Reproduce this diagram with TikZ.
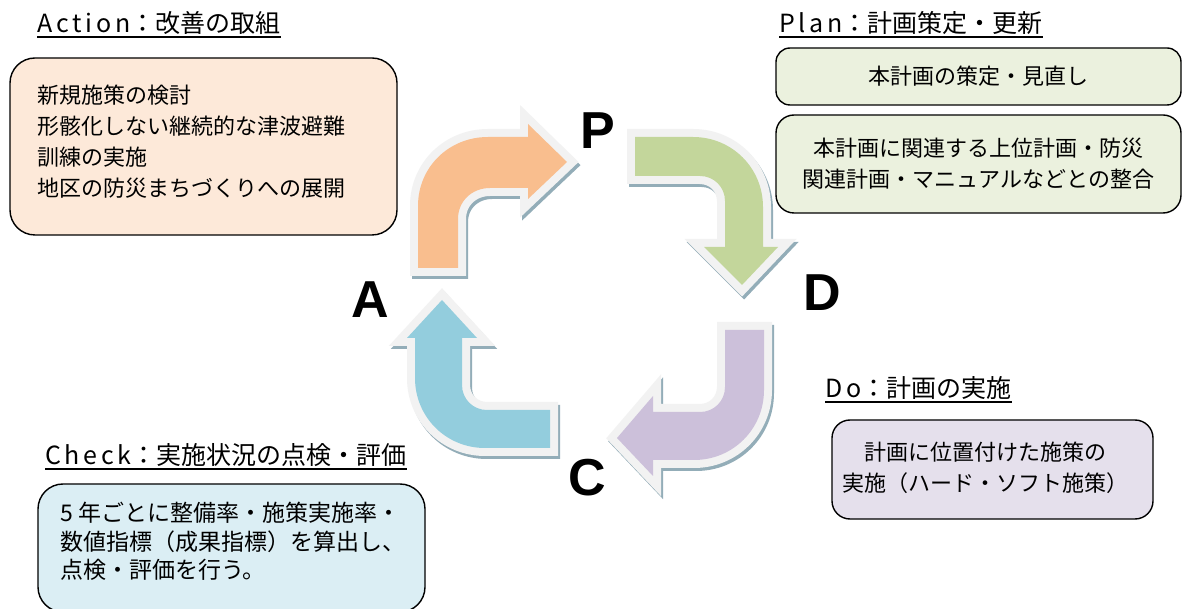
\documentclass[tikz,border=0pt]{standalone}
\usepackage{fontspec}
\setmainfont{Noto Sans CJK JP}
\newfontfamily\latinT{Noto Sans CJK JP}[LetterSpace=15]
\newfontfamily\letterfont{Liberation Sans Bold}
\definecolor{orangeA}{HTML}{F9BE8E}
\definecolor{greenA}{HTML}{C3D69B}
\definecolor{purpleA}{HTML}{CCC0DA}
\definecolor{blueA}{HTML}{93CDDD}
\definecolor{rimC}{HTML}{F2F2F2}
\definecolor{shadC}{HTML}{93ADB8}
\definecolor{actF}{HTML}{FDE9D9}
\definecolor{planF}{HTML}{EBF1DE}
\definecolor{doF}{HTML}{E5E0EC}
\definecolor{chkF}{HTML}{DBEEF4}
\tikzset{
  shadowsty/.style={draw=shadC, fill=shadC, line width=16pt, line join=miter, shift={(2,3)}},
  rimsty/.style={draw=rimC, line width=16pt, line join=miter},
  infobox/.style={draw=black, line width=1.4pt, inner sep=0pt},
  bodytext/.style={inner sep=0pt, font=\fontsize{22}{31}\selectfont},
  titletext/.style={inner sep=0pt, anchor=base west, font=\fontsize{25}{30}\selectfont},
  uline/.style={line width=1.8pt, black},
  letter/.style={inner sep=0pt, font=\fontsize{52}{52}\letterfont}
}
\newcommand\pdcaArrow[2]{%
  \draw[shadowsty] #2;
  \draw[rimsty] #2;
  \fill[#1] #2;}
\begin{document}
\begin{tikzpicture}[x=1pt,y=-1pt]
\useasboundingbox (0,0) rectangle (1184,609);
\clip (0,0) rectangle (1184,609);
\fill[white] (0,0) rectangle (1184,609);

% arrows
\pdcaArrow{orangeA}{(418,268) -- (418,206) .. controls (418,167) and (449,137) .. (488,137) -- (528,137) -- (528,124) -- (567,162) -- (528,199) -- (528,188) -- (490,188) .. controls (472,188) and (458,201) .. (458,219) -- (458,268) -- cycle}
\pdcaArrow{greenA}{(635,137) -- (693,137) .. controls (732,137) and (763,168) .. (763,207) -- (763,247) -- (778,247) -- (742,285) -- (704,247) -- (725,247) -- (725,201) .. controls (725,187) and (714,176) .. (700,176) -- (635,176) -- cycle}
\pdcaArrow{purpleA}{(725,330) -- (764,330) -- (764,390) .. controls (764,429) and (733,460) .. (694,460) -- (653,460) -- (653,476) -- (617,438) -- (653,396) -- (653,412) -- (700,412) .. controls (714,412) and (725,401) .. (725,387) -- cycle}
\pdcaArrow{blueA}{(550,448) -- (485,448) .. controls (446,448) and (415,417) .. (415,378) -- (415,338) -- (407,338) -- (442,300) -- (477,338) -- (462,338) -- (462,385) .. controls (462,399) and (473,410) .. (487,410) -- (550,410) -- cycle}

% letters
\node[letter] (P) at (598,131) {P};
\node[letter] (D) at (822,293) {D};
\node[letter] (C) at (587,478) {C};
\node[letter] (A) at (370,300) {A};

% Action
\node[titletext] (tA) at (37,33) {{\latinT Action}：改善の取組};
\draw[uline] ([yshift=-4pt]tA.base west) -- ([yshift=-4pt]tA.base east);
\node[infobox, fill=actF, rounded corners=25pt, minimum width=387pt, minimum height=177pt] (actbox) at (203.5,146.5) {};
\node[bodytext, anchor=west, align=left] (acttext) at (37,141.5) {新規施策の検討\\形骸化しない継続的な津波避難\\訓練の実施\\地区の防災まちづくりへの展開};

% Plan
\node[titletext] (tP) at (779,33) {{\latinT Plan}：計画策定・更新};
\draw[uline] ([yshift=-4pt]tP.base west) -- ([yshift=-4pt]tP.base east);
\node[infobox, fill=planF, rounded corners=14pt, minimum width=405pt, minimum height=57pt] (planbox1) at (978.5,76.5) {};
\node[bodytext] (plantext1) at (planbox1.center) {本計画の策定・見直し};
\node[infobox, fill=planF, rounded corners=18pt, minimum width=405pt, minimum height=98pt] (planbox2) at (978.5,164) {};
\node[bodytext, align=center] (plantext2) at (planbox2.center) {本計画に関連する上位計画・防災\\関連計画・マニュアルなどとの整合};

% Do
\node[titletext] (tD) at (825,398) {{\latinT Do}：計画の実施};
\draw[uline] ([yshift=-4pt]tD.base west) -- ([yshift=-4pt]tD.base east);
\node[infobox, fill=doF, rounded corners=18pt, minimum width=321pt, minimum height=99pt] (dobox) at (992.5,469.5) {};
\node[bodytext, align=center] (dotext) at (985,467.5) {計画に位置付けた施策の\\実施（ハード・ソフト施策）};

% Check
\node[titletext] (tC) at (45,465) {{\latinT Check}：実施状況の点検・評価};
\draw[uline] ([yshift=-4pt]tC.base west) -- ([yshift=-4pt]tC.base east);
\node[infobox, fill=chkF, rounded corners=25pt, minimum width=387pt, minimum height=128pt] (chkbox) at (231.5,548) {};
\node[bodytext, anchor=west, align=left, font=\fontsize{23}{28.5}\selectfont] (chktext) at (60,541.5) {5 年ごとに整備率・施策実施率・\\数値指標（成果指標）を算出し、\\点検・評価を行う。};
\end{tikzpicture}
\end{document}
